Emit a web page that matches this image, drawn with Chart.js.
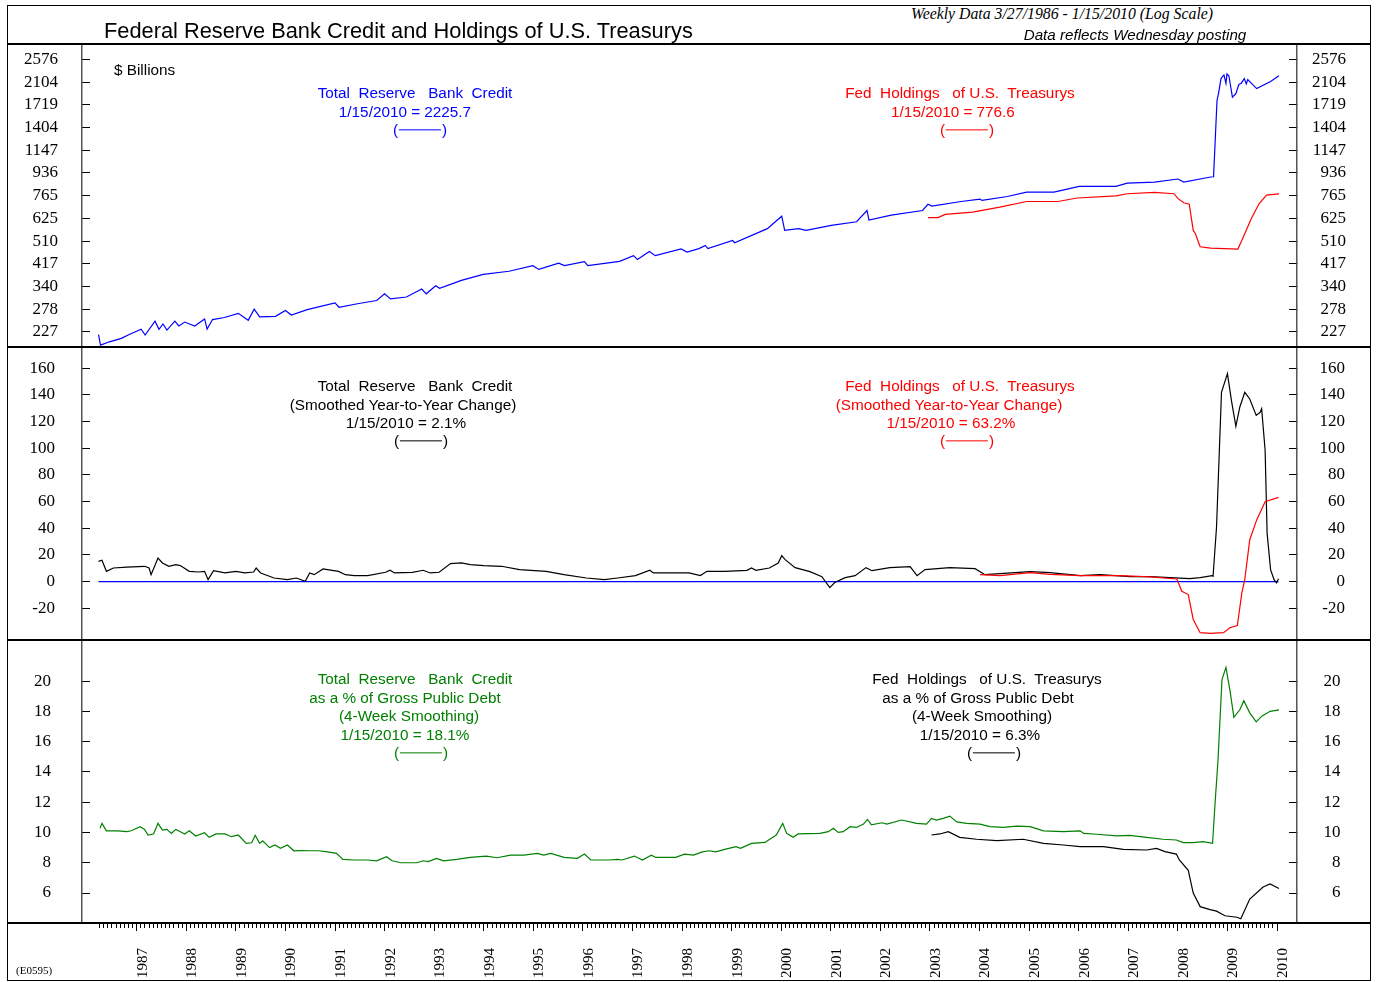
<!DOCTYPE html>
<html>
<head>
<meta charset="utf-8">
<script src="https://cdn.jsdelivr.net/npm/chart.js@4.4.1/dist/chart.umd.min.js"></script>
<style>
  html, body { margin:0; padding:0; background:#fff; }
  body { width:1376px; height:982px; position:relative; overflow:hidden; font-family:"Liberation Sans", Arial, sans-serif; }
  canvas.c { position:absolute; left:7px; }
  .ln { position:absolute; background:#000; z-index:5; }
  .t { position:absolute; transform:translate(-50%,-50%); white-space:pre; font-size:15.3px; line-height:1; z-index:6; font-family:"Liberation Sans", Arial, sans-serif; }
  .dash { display:inline-block; width:42px; height:0; border-top:1px solid currentColor; vertical-align:middle; margin:0 1px; position:relative; top:-1px; }
</style>
</head>
<body>
<canvas id="cA" class="c" width="1364" height="303" style="top:44px"></canvas>
<canvas id="cB" class="c" width="1364" height="293" style="top:347px"></canvas>
<canvas id="cC" class="c" width="1364" height="341" style="top:640px"></canvas>

<!-- frame and panel separators -->
<div class="ln" style="left:7px;top:5px;width:1364px;height:1px"></div>
<div class="ln" style="left:7px;top:980px;width:1364px;height:1px"></div>
<div class="ln" style="left:7px;top:5px;width:1px;height:976px"></div>
<div class="ln" style="left:1370px;top:5px;width:1px;height:976px"></div>
<div class="ln" style="left:7px;top:43px;width:1364px;height:1.5px"></div>
<div class="ln" style="left:7px;top:346px;width:1364px;height:2px"></div>
<div class="ln" style="left:7px;top:639px;width:1364px;height:2px"></div>
<div class="ln" style="left:7px;top:922px;width:1364px;height:2px"></div>

<!-- titles -->
<div class="t" style="left:104px;top:31px;transform:translate(0,-50%);font-size:21.8px">Federal Reserve Bank Credit and Holdings of U.S. Treasurys</div>
<div class="t" style="left:1062px;top:14px;font-family:'Liberation Serif','Times New Roman',serif;font-style:italic;font-size:15.8px">Weekly Data 3/27/1986 - 1/15/2010 (Log Scale)</div>
<div class="t" style="left:1135px;top:35px;font-style:italic;font-size:15.2px">Data reflects Wednesday posting</div>
<div class="t" style="left:16px;top:970px;transform:translate(0,-50%);font-family:'Liberation Serif','Times New Roman',serif;font-size:11px">(E0595)</div>

<!-- panel 1 -->
<div class="t" style="left:114px;top:70px;transform:translate(0,-50%)">$ Billions</div>
<div class="t" style="left:415px;top:93px;color:#0000ff">Total  Reserve   Bank  Credit</div>
<div class="t" style="left:405px;top:112px;color:#0000ff">1/15/2010 = 2225.7</div>
<div class="t" style="left:420px;top:130px;color:#0000ff">(<span class="dash"></span>)</div>
<div class="t" style="left:960px;top:93px;color:#ff0000">Fed  Holdings   of U.S.  Treasurys</div>
<div class="t" style="left:953px;top:112px;color:#ff0000">1/15/2010 = 776.6</div>
<div class="t" style="left:967px;top:130px;color:#ff0000">(<span class="dash"></span>)</div>

<!-- panel 2 -->
<div class="t" style="left:415px;top:386px;color:#000">Total  Reserve   Bank  Credit</div>
<div class="t" style="left:403px;top:405px;color:#000">(Smoothed Year-to-Year Change)</div>
<div class="t" style="left:406px;top:423px;color:#000">1/15/2010 = 2.1%</div>
<div class="t" style="left:421px;top:441px;color:#000">(<span class="dash"></span>)</div>
<div class="t" style="left:960px;top:386px;color:#ff0000">Fed  Holdings   of U.S.  Treasurys</div>
<div class="t" style="left:949px;top:405px;color:#ff0000">(Smoothed Year-to-Year Change)</div>
<div class="t" style="left:951px;top:423px;color:#ff0000">1/15/2010 = 63.2%</div>
<div class="t" style="left:967px;top:441px;color:#ff0000">(<span class="dash"></span>)</div>

<!-- panel 3 -->
<div class="t" style="left:415px;top:679px;color:#008000">Total  Reserve   Bank  Credit</div>
<div class="t" style="left:405px;top:698px;color:#008000">as a % of Gross Public Debt</div>
<div class="t" style="left:409px;top:716px;color:#008000">(4-Week Smoothing)</div>
<div class="t" style="left:405px;top:735px;color:#008000">1/15/2010 = 18.1%</div>
<div class="t" style="left:421px;top:753px;color:#008000">(<span class="dash"></span>)</div>
<div class="t" style="left:987px;top:679px;color:#000">Fed  Holdings   of U.S.  Treasurys</div>
<div class="t" style="left:978px;top:698px;color:#000">as a % of Gross Public Debt</div>
<div class="t" style="left:982px;top:716px;color:#000">(4-Week Smoothing)</div>
<div class="t" style="left:980px;top:735px;color:#000">1/15/2010 = 6.3%</div>
<div class="t" style="left:994px;top:753px;color:#000">(<span class="dash"></span>)</div>

<script>
// ---------------- data (decimal years) ----------------
const creditDates = [1986.23,1986.27,1986.45,1986.69,1986.85,1987.09,1987.17,1987.37,1987.45,1987.53,1987.61,1987.77,1987.85,1987.97,
  1988.17,1988.37,1988.42,1988.53,1988.77,1989.05,1989.25,1989.37,1989.48,1989.8,1990.0,1990.12,1990.44,1991.0,1991.08,1991.48,
  1991.84,1992.0,1992.12,1992.44,1992.75,1992.84,1993.03,1993.11,1993.55,1993.99,1994.51,1994.99,1995.11,1995.51,1995.63,1996.03,
  1996.1,1996.74,1997.02,1997.1,1997.34,1997.46,1997.98,1998.1,1998.34,1998.47,1998.52,1999.02,1999.06,1999.72,2000.01,2000.07,
  2000.35,2000.5,2001.01,2001.52,2001.73,2001.77,2002.22,2002.85,2002.96,2003.04,2003.63,2004.01,2004.05,2004.56,2004.95,2005.5,
  2006.01,2006.75,2006.98,2007.53,2008.0,2008.12,2008.66,2008.72,2008.79,2008.82,2008.87,2008.93,2008.97,2008.99,2009.03,2009.07,
  2009.1,2009.17,2009.23,2009.28,2009.34,2009.38,2009.41,2009.59,2009.87,2010.04];
const creditValues = [222,202,208,214.5,222,232.7,221,250,232.6,243.8,231,250,239.5,248,
  239.5,255,233,253.6,258.3,268,252,278,259.6,261,275,264,277,294,283,292.6,
  300.5,319,305,310,333,319,342.7,335,359.5,379,390,410,396.5,419,410,425,
  410,426,448,433,465,448,476,463,477,491,477,513,503,570,637,561,
  570,561,587,606,670,615,643,670,708,697,726,742,733,759,789,789,
  831,831,855,863,887,863,903,905,1788,1898,2170,2241,2080,2262,2220,1995,
  1839,1898,2058,2083,2170,2070,2150,1985,2115,2225.7];

const treasDates = [2002.96,2003.16,2003.31,2003.86,2004.41,2004.95,2005.58,2005.97,2006.75,2006.98,2007.53,2007.92,2008.01,
  2008.12,2008.23,2008.31,2008.35,2008.45,2008.66,2009.21,2009.29,2009.48,2009.64,2009.79,2010.04];
const treasValues = [629,629,647,660,690,726,726,749,763,778,787,778,743,
  718,709,561,547,485,479,475,513,623,713,769,776.6];

const creditYoYDates = [1986.23,1986.30,1986.39,1986.53,1986.80,1987.16,1987.25,1987.29,1987.43,1987.52,1987.65,1987.79,1987.88,
  1988.06,1988.24,1988.37,1988.44,1988.55,1988.78,1989.0,1989.18,1989.36,1989.41,1989.50,1989.77,1990.04,1990.22,1990.40,1990.49,
  1990.58,1990.76,1990.94,1991.07,1991.21,1991.39,1991.66,1992.02,1992.11,1992.20,1992.56,1992.78,1992.92,1993.10,1993.33,1993.55,
  1993.73,1994.0,1994.36,1994.72,1995.26,1995.62,1996.07,1996.43,1996.70,1997.06,1997.35,1997.42,1997.78,1998.14,1998.37,1998.50,
  1998.86,1999.31,1999.40,1999.49,1999.76,1999.94,2000.01,2000.08,2000.28,2000.58,2000.82,2000.98,2001.08,2001.29,2001.49,2001.71,
  2001.83,2002.19,2002.60,2002.74,2002.90,2003.40,2003.91,2004.11,2004.41,2005.02,2005.42,2006.03,2006.43,2007.04,2007.44,2007.84,
  2008.24,2008.45,2008.69,2008.71,2008.78,2008.88,2009.0,2009.08,2009.17,2009.25,2009.35,2009.45,2009.58,2009.66,2009.69,2009.76,
  2009.80,2009.87,2009.94,2009.99,2010.03];
const creditYoYValues = [15.2,16,7.7,10.2,10.8,11.5,10.2,5.2,17.7,14,11.5,12.7,12,
  7.7,7.2,7.7,1.5,8.2,6.5,7.7,6.5,7.2,10.2,6.5,2.7,1.5,2.7,0.2,6.5,
  5.2,9.5,8.5,7.7,5.2,4.5,4.5,7,8.5,6.5,7,8.5,6.5,7,13.5,14,
  12.7,12,11.5,9,7.7,5.2,2.7,1.5,2.7,4.5,8.5,6.5,6.5,6.5,4.5,7.7,
  7.7,8.5,10.2,8.5,10.2,14,19.5,16.5,10.5,7.5,3.7,-4.5,-0.7,3,4.5,10.5,
  8.2,10.5,11.2,4.5,9,10.5,9.7,5.2,6,7.5,6.7,4.5,5.2,3.7,3.7,3,
  2.2,3,4.5,4,41,142,156,136,116.5,131,142,137,124.7,127,129.7,98.6,
  36.4,9,1.5,-1,2.1];

const treasYoYDates = [2004.01,2004.41,2005.02,2005.42,2006.03,2006.83,2007.44,2007.98,2008.08,2008.21,2008.31,2008.45,2008.65,
  2008.92,2009.05,2009.20,2009.29,2009.35,2009.45,2009.59,2009.76,2010.03];
const treasYoYValues = [5.2,4.5,6.7,5.5,4.5,4.5,3.5,2,-7.2,-9.7,-28.4,-38.3,-38.8,
  -38.3,-34.6,-32.9,-8.5,1.5,31.4,46.3,60,63.2];

const zeroDates = [1986.23, 2010.03];
const zeroValues = [0, 0];

const creditPctDates = [1986.26,1986.30,1986.39,1986.62,1986.80,1986.89,1987.07,1987.16,1987.23,1987.34,1987.43,1987.52,1987.61,
  1987.70,1987.79,1987.88,1987.97,1988.06,1988.19,1988.37,1988.46,1988.60,1988.78,1988.91,1989.05,1989.21,1989.32,1989.39,1989.48,
  1989.54,1989.68,1989.79,1989.90,1990.04,1990.17,1990.31,1990.49,1990.67,1990.85,1991.03,1991.16,1991.39,1991.66,1991.84,1992.04,
  1992.15,1992.33,1992.65,1992.78,1992.88,1993.05,1993.19,1993.46,1993.73,1994.05,1994.27,1994.54,1994.81,1995.08,1995.21,1995.35,
  1995.62,1995.89,1996.03,1996.16,1996.52,1996.70,1996.79,1997.04,1997.20,1997.38,1997.47,1997.87,1998.05,1998.23,1998.41,1998.55,
  1998.68,1998.86,1999.09,1999.18,1999.40,1999.67,1999.90,2000.03,2000.11,2000.24,2000.34,2000.78,2000.95,2001.05,2001.15,2001.25,
  2001.39,2001.52,2001.66,2001.74,2001.82,2002.03,2002.13,2002.43,2002.73,2002.93,2003.03,2003.13,2003.27,2003.40,2003.54,2003.74,
  2004.01,2004.21,2004.48,2004.75,2005.02,2005.29,2005.69,2006.03,2006.10,2006.36,2006.77,2007.03,2007.37,2007.70,2007.97,2008.11,
  2008.31,2008.51,2008.70,2008.75,2008.81,2008.89,2008.97,2009.05,2009.13,2009.25,2009.33,2009.45,2009.58,2009.70,2009.86,2010.04];
const creditPctValues = [10.27,10.6,10.11,10.11,10.05,10.11,10.38,10.2,9.83,9.9,10.6,10.16,10.2,
  9.94,10.2,10.05,9.9,10.11,9.76,9.98,9.68,9.9,9.9,9.72,9.83,9.28,9.32,9.81,9.28,
  9.45,9.0,9.17,8.95,9.17,8.79,8.8,8.79,8.79,8.72,8.62,8.22,8.18,8.18,8.13,8.4,
  8.13,8.0,8.0,8.13,8.07,8.29,8.13,8.22,8.35,8.44,8.33,8.5,8.5,8.62,8.5,8.62,
  8.35,8.29,8.57,8.18,8.18,8.22,8.18,8.44,8.18,8.5,8.35,8.35,8.57,8.5,8.72,8.79,
  8.72,8.88,9.06,8.95,9.28,9.34,9.83,10.6,9.94,9.68,9.9,9.94,10.05,10.27,10.0,10.05,
  10.38,10.33,10.55,10.86,10.5,10.64,10.55,10.82,10.6,10.55,10.93,10.82,10.93,11.08,10.7,10.6,
  10.55,10.38,10.33,10.42,10.38,10.11,10.05,10.11,9.94,9.88,9.77,9.81,9.68,9.55,9.5,9.33,
  9.33,9.39,9.28,11.9,14.8,20.1,20.9,19.4,17.6,18.1,18.7,17.9,17.3,17.7,18.0,18.1];

const treasPctDates = [2003.03,2003.20,2003.37,2003.60,2003.94,2004.35,2004.88,2005.29,2005.69,2006.03,2006.50,2006.90,2007.37,
  2007.57,2007.74,2007.97,2008.03,2008.21,2008.31,2008.45,2008.65,2008.78,2008.95,2009.19,2009.27,2009.45,2009.72,2009.86,2010.04];
const treasPctValues = [9.83,9.9,10.05,9.68,9.55,9.46,9.55,9.28,9.17,9.06,9.06,8.88,8.84,
  8.95,8.73,8.57,8.18,7.5,6.0,5.1,4.9,4.8,4.5,4.4,4.3,5.6,6.4,6.6,6.3];

const logTicks = [227,278,340,417,510,625,765,936,1147,1404,1719,2104,2576];
const yoyTicks = [-20,0,20,40,60,80,100,120,140,160];
const pctTicks = [6,8,10,12,14,16,18,20];
const yearTicks = [1987,1988,1989,1990,1991,1992,1993,1994,1995,1996,1997,1998,1999,2000,2001,2002,2003,2004,2005,2006,2007,2008,2009,2010];

// ---------------- helpers ----------------
const X_MIN = 1985.897, X_MAX = 2010.403;
const SERIF = '"Liberation Serif", "Times New Roman", serif';
const pts = (d, v) => d.map((x, i) => ({x: x, y: v[i]}));
const line = (d, v, color) => ({data: pts(d, v), borderColor: color, borderWidth: 1.2, pointRadius: 0, tension: 0, fill: false});

const monthTicks = [];
for (let y = 1986; y <= 2010; y++) {
  for (let m = 0; m < 12; m++) {
    const v = y + m / 12;
    if (v >= 1986.24 && v <= 2010.01) monthTicks.push(v);
  }
}

function yAxis(pos, type, min, max, tickVals, anchor) {
  return {
    type: type, position: pos, min: min, max: max,
    afterBuildTicks: s => { s.ticks = tickVals.map(v => ({value: v})); },
    grid: {drawOnChartArea: false, tickLength: -8, color: '#000', lineWidth: 1},
    border: {display: true, color: '#555', width: 1.5},
    ticks: {
      color: '#000', font: {family: SERIF, size: 17}, autoSkip: false,
      padding: pos === 'left' ? 90 - anchor : 0,
      crossAlign: pos === 'left' ? 'near' : 'far',
      callback: v => String(v)
    },
    afterFit: s => { s.width = pos === 'left' ? 75 : anchor - 1297; s.paddingTop = 0; s.paddingBottom = 0; }
  };
}

function makeChart(id, datasets, yType, yMin, yMax, tickVals, anchorL, anchorR, showX) {
  const scales = {};
  if (showX) {
    scales.xm = {
      type: 'linear', position: 'bottom', min: X_MIN, max: X_MAX,
      afterBuildTicks: s => { s.ticks = monthTicks.map(v => ({value: v})); },
      ticks: {display: false},
      grid: {drawOnChartArea: false, tickLength: 5, color: '#000', lineWidth: 1},
      border: {display: false},
      afterFit: s => { s.height = 0; s.paddingLeft = 0; s.paddingRight = 0; }
    };
    scales.x = {
      type: 'linear', position: 'bottom', min: X_MIN, max: X_MAX,
      afterBuildTicks: s => { s.ticks = yearTicks.map(v => ({value: v})); },
      ticks: {minRotation: 90, maxRotation: 90, autoSkip: false, color: '#000',
              font: {family: SERIF, size: 15}, padding: 17, labelOffset: 6,
              callback: v => String(v)},
      grid: {drawOnChartArea: false, tickLength: 8, color: '#000', lineWidth: 1},
      border: {display: false},
      afterFit: s => { s.height = 58; s.paddingLeft = 0; s.paddingRight = 0; }
    };
  } else {
    scales.x = {type: 'linear', min: X_MIN, max: X_MAX, display: false};
  }
  scales.y = yAxis('left', yType, yMin, yMax, tickVals, anchorL);
  scales.y2 = yAxis('right', yType, yMin, yMax, tickVals, anchorR);
  return new Chart(document.getElementById(id), {
    type: 'line',
    data: {datasets: datasets},
    options: {
      responsive: false, animation: false, devicePixelRatio: 1,
      layout: {padding: {left: 0, right: 1371 - anchorR, top: 0, bottom: 0}},
      plugins: {legend: {display: false}, tooltip: {enabled: false}, title: {display: false}},
      scales: scales
    }
  });
}

makeChart('cA', [
  line(treasDates, treasValues, '#ff0000'),
  line(creditDates, creditValues, '#0000ff')
], 'logarithmic', 198.6, 2953, logTicks, 58, 1346, false);

makeChart('cB', [
  line(treasYoYDates, treasYoYValues, '#ff0000'),
  line(creditYoYDates, creditYoYValues, '#000000'),
  line(zeroDates, zeroValues, '#0000ff')
], 'linear', -43.8, 176, yoyTicks, 55, 1345, false);

makeChart('cC', [
  line(treasPctDates, treasPctValues, '#000000'),
  line(creditPctDates, creditPctValues, '#008000')
], 'linear', 4.02, 22.71, pctTicks, 51, 1340.5, true);
</script>
</body>
</html>
